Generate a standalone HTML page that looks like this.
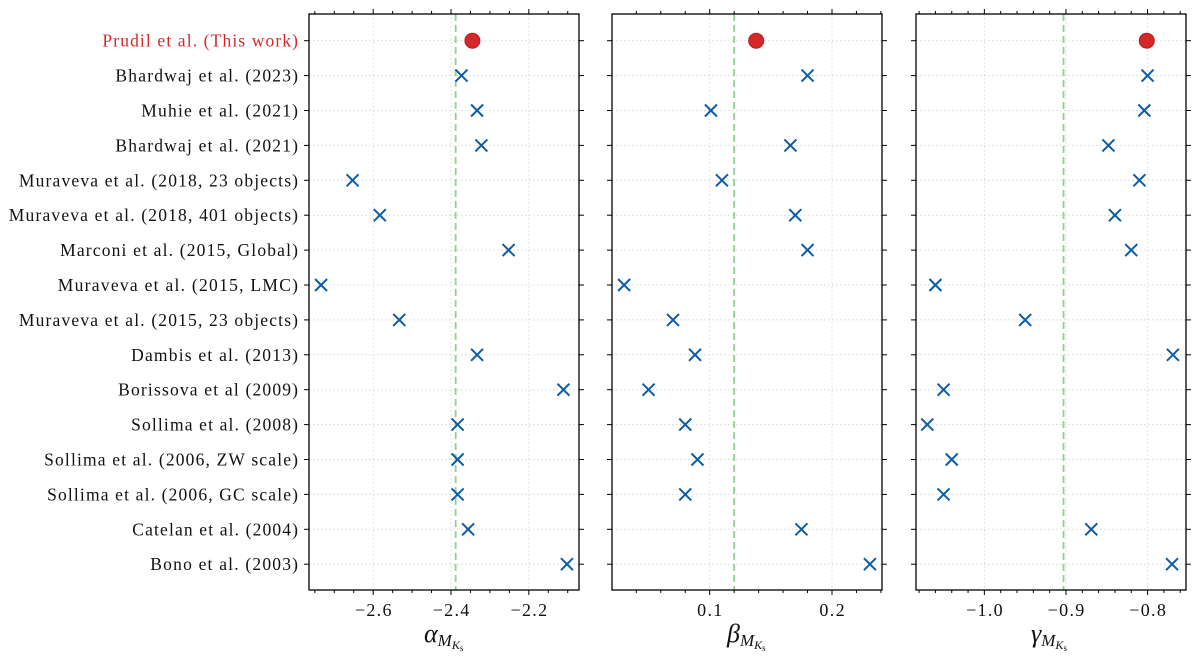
<!DOCTYPE html>
<html><head><meta charset="utf-8"><style>
html,body{margin:0;padding:0;background:#fff;}
svg{display:block;font-family:"Liberation Serif","DejaVu Serif",serif;}
</style></head><body>
<svg id="chart" width="1200" height="660" viewBox="0 0 1200 660"></svg>
<script>
const categories = ["Prudil et al. (This work)","Bhardwaj et al. (2023)","Muhie et al. (2021)","Bhardwaj et al. (2021)","Muraveva et al. (2018, 23 objects)","Muraveva et al. (2018, 401 objects)","Marconi et al. (2015, Global)","Muraveva et al. (2015, LMC)","Muraveva et al. (2015, 23 objects)","Dambis et al. (2013)","Borissova et al (2009)","Sollima et al. (2008)","Sollima et al. (2006, ZW scale)","Sollima et al. (2006, GC scale)","Catelan et al. (2004)","Bono et al. (2003)"];
const alphaValues = [-2.345,-2.373,-2.333,-2.322,-2.653,-2.583,-2.252,-2.734,-2.533,-2.333,-2.111,-2.383,-2.383,-2.383,-2.356,-2.102];
const betaValues = [0.138,0.180,0.101,0.166,0.110,0.170,0.180,0.030,0.070,0.088,0.050,0.080,0.090,0.080,0.175,0.231];
const gammaValues = [-0.801,-0.800,-0.804,-0.848,-0.810,-0.840,-0.820,-1.060,-0.950,-0.769,-1.050,-1.070,-1.040,-1.050,-0.869,-0.770];
const refLines = [-2.388, 0.120, -0.903];
const alphaTicks = [-2.6,-2.4,-2.2];
const alphaTickLabels = ["\u22122.6","\u22122.4","\u22122.2"];
const betaTicks = [0.1,0.2];
const betaTickLabels = ["0.1","0.2"];
const gammaTicks = [-1.0,-0.9,-0.8];
const gammaTickLabels = ["\u22121.0","\u22120.9","\u22120.8"];

const NS="http://www.w3.org/2000/svg";
const svg=document.getElementById('chart');
function mk(tag,attrs,parent){const e=document.createElementNS(NS,tag);for(const k in attrs)e.setAttribute(k,attrs[k]);(parent||svg).appendChild(e);return e;}
function widen(t,f){const L=t.getComputedTextLength();t.setAttribute('textLength',(L*f).toFixed(1));t.setAttribute('lengthAdjust','spacing');}
const TOP=14,BOT=590;
function yOf(i){return 40.7+34.9*i;}

const panels=[
 {name:'alpha',x0:309,x1:579,d0:-2.765,d1:-2.071,vals:alphaValues,ticks:alphaTicks,labels:alphaTickLabels,minor:0.05,sym:'α'},
 {name:'beta',x0:612,x1:882,d0:0.0201,d1:0.2409,vals:betaValues,ticks:betaTicks,labels:betaTickLabels,minor:0.02,sym:'β'},
 {name:'gamma',x0:916,x1:1186,d0:-1.0838,d1:-0.7529,vals:gammaValues,ticks:gammaTicks,labels:gammaTickLabels,minor:0.02,sym:'γ'}
];

categories.forEach((c,i)=>{
  const t=mk('text',{x:298,y:yOf(i)+6,'text-anchor':'end','font-size':'17.5',fill:i===0?'#d62728':'#111'});
  
  
  t.textContent=c;
  widen(t,1.16);
});

panels.forEach((p,pi)=>{
  const sx=v=>p.x0+(v-p.d0)/(p.d1-p.d0)*(p.x1-p.x0);
  const g=mk('g',{});
  
  
  p.ticks.forEach(v=>{const l=mk('line',{x1:sx(v),x2:sx(v),y1:TOP,y2:BOT,stroke:'#d8d8d8','stroke-width':1,'stroke-dasharray':'1.5,2.5'},g);
    });
  categories.forEach((c,i)=>{const l=mk('line',{x1:p.x0,x2:p.x1,y1:yOf(i),y2:yOf(i),stroke:'#d8d8d8','stroke-width':1,'stroke-dasharray':'1.5,2.5'},g);
    });
  const r=mk('line',{x1:sx(refLines[pi]),x2:sx(refLines[pi]),y1:TOP,y2:BOT,stroke:'#8fd18f','stroke-width':1.8,'stroke-dasharray':'7,4'},g);
  
  const start=Math.ceil(p.d0/p.minor-1e-9),end=Math.floor(p.d1/p.minor+1e-9);
  for(let k=start;k<=end;k++){const v=k*p.minor;const x=sx(v);
    const major=p.ticks.some(t=>Math.abs(t-v)<1e-6);const len=major?5:3;
    mk('line',{x1:x,x2:x,y1:BOT,y2:BOT+len,stroke:'#000','stroke-width':1},g);
    mk('line',{x1:x,x2:x,y1:TOP,y2:TOP-len,stroke:'#000','stroke-width':1},g);}
  categories.forEach((c,i)=>{
    mk('line',{x1:p.x0-5,x2:p.x0,y1:yOf(i),y2:yOf(i),stroke:'#000','stroke-width':1},g);
    mk('line',{x1:p.x1,x2:p.x1+5,y1:yOf(i),y2:yOf(i),stroke:'#000','stroke-width':1},g);});
  p.ticks.forEach((v,k)=>{const t=mk('text',{x:sx(v),y:616,'text-anchor':'middle','font-size':'18',fill:'#111'},g);
    t.textContent=p.labels[k];
    widen(t,1.12);});
  const cx=(p.x0+p.x1)/2;
  const at=mk('text',{x:cx-20,y:642,'font-size':'26','font-style':'italic',fill:'#111'},g);
  
  at.textContent=p.sym;
  const s1=mk('tspan',{'font-size':'17',dy:'4'},at);s1.textContent='M';
  const s2=mk('tspan',{'font-size':'12',dy:'3'},at);s2.textContent='K';
  const s3=mk('tspan',{'font-size':'9','font-style':'normal',dy:'2'},at);s3.textContent='s';
  p.vals.forEach((v,i)=>{
    const x=sx(v),y=yOf(i);
    if(i===0){const c=mk('circle',{cx:x,cy:y,r:7.5,fill:'#d62728',stroke:'#b81d1d','stroke-width':1},g);
      }
    else{const m=mk('path',{d:`M${x-6},${y-6}L${x+6},${y+6}M${x-6},${y+6}L${x+6},${y-6}`,stroke:'#0c5da5','stroke-width':2,fill:'none'},g);
      }
  });
  const f=mk('rect',{x:p.x0,y:TOP,width:p.x1-p.x0,height:BOT-TOP,fill:'none',stroke:'#000','stroke-width':1.3},g);
  
});
</script>
</body></html>
